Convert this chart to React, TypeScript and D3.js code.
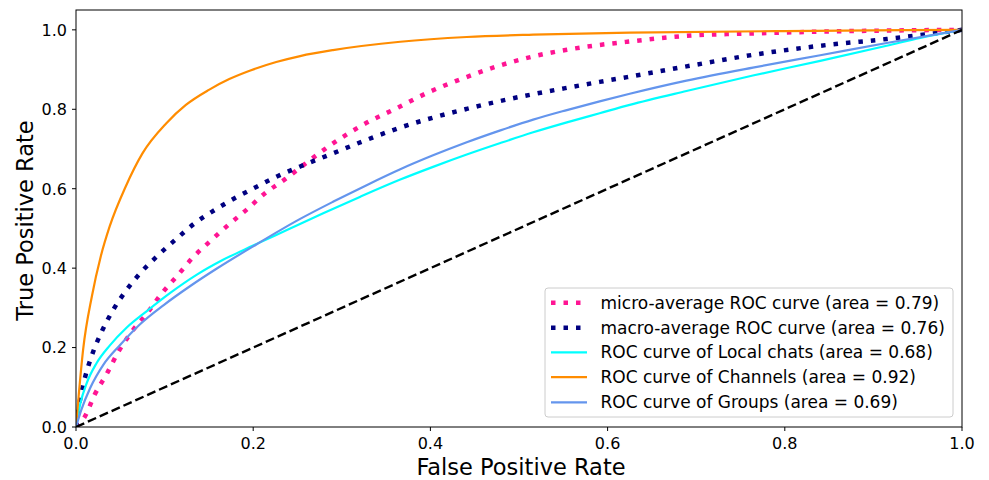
import React from "react";
import * as d3 from "d3";

const W = 989;
const H = 480;
const M = { left: 76, right: 962, top: 10, bottom: 427 };

const xTicks = [0, 0.2, 0.4, 0.6, 0.8, 1.0];
const yTicks = [0, 0.2, 0.4, 0.6, 0.8, 1.0];
const tickLabels = ["0.0", "0.2", "0.4", "0.6", "0.8", "1.0"];

// ROC curves: false positive rate / true positive rate
const microFpr = [0, 0.010, 0.021, 0.035, 0.048, 0.063, 0.080, 0.097, 0.114, 0.132, 0.153, 0.172, 0.193, 0.213, 0.236, 0.257, 0.290, 0.324, 0.362, 0.400, 0.437, 0.475, 0.516, 0.554, 0.591, 0.622, 0.689, 0.764, 0.877, 1.0];
const microTpr = [0, 0.026, 0.081, 0.135, 0.190, 0.240, 0.286, 0.337, 0.380, 0.427, 0.471, 0.509, 0.548, 0.588, 0.624, 0.660, 0.714, 0.761, 0.803, 0.845, 0.878, 0.908, 0.933, 0.950, 0.962, 0.970, 0.985, 0.991, 0.997, 1.0];

const macroFpr = [0, 0.002, 0.0045, 0.010, 0.018, 0.029, 0.042, 0.057, 0.074, 0.093, 0.114, 0.134, 0.157, 0.179, 0.204, 0.228, 0.253, 0.290, 0.328, 0.366, 0.403, 0.441, 0.479, 0.516, 0.554, 0.591, 0.622, 0.689, 0.764, 0.840, 0.915, 0.953, 1.0];
const macroTpr = [0, 0.040, 0.068, 0.123, 0.181, 0.240, 0.295, 0.345, 0.391, 0.433, 0.475, 0.513, 0.547, 0.576, 0.605, 0.632, 0.656, 0.689, 0.723, 0.754, 0.779, 0.801, 0.821, 0.838, 0.854, 0.869, 0.881, 0.908, 0.937, 0.960, 0.977, 0.987, 1.0];

const localFpr = [0, 0.005, 0.012, 0.023, 0.038, 0.057, 0.080, 0.106, 0.136, 0.166, 0.200, 0.238, 0.279, 0.321, 0.366, 0.403, 0.441, 0.479, 0.516, 0.554, 0.591, 0.625, 0.689, 0.764, 0.840, 0.915, 0.953, 1.0];
const localTpr = [0, 0.060, 0.110, 0.160, 0.205, 0.250, 0.292, 0.337, 0.383, 0.421, 0.457, 0.496, 0.538, 0.580, 0.623, 0.655, 0.686, 0.715, 0.742, 0.767, 0.790, 0.811, 0.846, 0.885, 0.922, 0.960, 0.980, 1.0];

const channelsFpr = [0, 0.0026, 0.008, 0.018, 0.028, 0.038, 0.056, 0.075, 0.102, 0.124, 0.150, 0.173, 0.196, 0.226, 0.253, 0.290, 0.366, 0.441, 0.516, 0.625, 0.800, 1.0];
const channelsTpr = [0, 0.068, 0.194, 0.330, 0.430, 0.505, 0.605, 0.689, 0.765, 0.811, 0.849, 0.876, 0.897, 0.919, 0.934, 0.949, 0.970, 0.982, 0.988, 0.993, 0.997, 1.0];

const groupsFpr = [0, 0.006, 0.016, 0.031, 0.050, 0.072, 0.099, 0.129, 0.159, 0.200, 0.253, 0.290, 0.328, 0.366, 0.403, 0.441, 0.479, 0.516, 0.554, 0.591, 0.625, 0.689, 0.764, 0.840, 0.915, 1.0];
const groupsTpr = [0, 0.043, 0.098, 0.157, 0.207, 0.258, 0.307, 0.355, 0.399, 0.455, 0.524, 0.567, 0.609, 0.649, 0.684, 0.717, 0.747, 0.774, 0.798, 0.820, 0.839, 0.872, 0.905, 0.936, 0.967, 1.0];

const diagFpr = [0, 1];
const diagTpr = [0, 1];

const seriesNames = [
  "micro-average ROC curve (area = 0.79)",
  "macro-average ROC curve (area = 0.76)",
  "ROC curve of Local chats (area = 0.68)",
  "ROC curve of Channels (area = 0.92)",
  "ROC curve of Groups (area = 0.69)",
];

const FONT = "'DejaVu Sans', sans-serif";

export default function App() {
  const x = d3.scaleLinear().domain([0, 1]).range([M.left, M.right]);
  const y = d3.scaleLinear().domain([0, 1.05]).range([M.bottom, M.top]);
  const line = d3
    .line<[number, number]>()
    .x((d) => x(d[0]))
    .y((d) => y(d[1]))
    .curve(d3.curveMonotoneX);
  const straight = d3
    .line<[number, number]>()
    .x((d) => x(d[0]))
    .y((d) => y(d[1]));
  const zip = (a: number[], b: number[]) => a.map((v, i) => [v, b[i]] as [number, number]);

  const series = [
    { name: seriesNames[0], data: zip(microFpr, microTpr), color: "#ff1493", width: 4.5, dash: "4.5,8" },
    { name: seriesNames[1], data: zip(macroFpr, macroTpr), color: "#000080", width: 4.5, dash: "4.5,8" },
    { name: seriesNames[2], data: zip(localFpr, localTpr), color: "#00ffff", width: 2.2, dash: "" },
    { name: seriesNames[3], data: zip(channelsFpr, channelsTpr), color: "#ff8c00", width: 2.2, dash: "" },
    { name: seriesNames[4], data: zip(groupsFpr, groupsTpr), color: "#6495ed", width: 2.2, dash: "" },
  ];

  const legX = 545, legY = 288, legW = 408, legH = 129;
  const rowY = [302.7, 327.7, 352.3, 377.2, 402.3];

  return (
    <svg
      width={W}
      height={H}
      style={{ position: "absolute", left: 0, top: 0, background: "#fff" }}
      fontFamily={FONT}
    >
      <rect x={0} y={0} width={W} height={H} fill="#fff" />
      <defs>
        <clipPath id="plot">
          <rect x={M.left} y={M.top} width={M.right - M.left} height={M.bottom - M.top} />
        </clipPath>
      </defs>
      <g clipPath="url(#plot)">
        {series.map((s) => (
          <path
            key={s.name}
            d={line(s.data) || ""}
            fill="none"
            stroke={s.color}
            strokeWidth={s.width}
            strokeDasharray={s.dash || undefined}
            strokeLinecap="butt"
            strokeLinejoin="round"
          />
        ))}
        <path
          d={straight(zip(diagFpr, diagTpr)) || ""}
          fill="none"
          stroke="#000"
          strokeWidth={2.4}
          strokeDasharray="9,4"
        />
      </g>
      <rect
        x={M.left}
        y={M.top}
        width={M.right - M.left}
        height={M.bottom - M.top}
        fill="none"
        stroke="#000"
        strokeWidth={1}
      />
      {xTicks.map((t, i) => (
        <g key={"x" + i}>
          <line x1={x(t)} x2={x(t)} y1={M.bottom} y2={M.bottom + 4} stroke="#000" strokeWidth={1} />
          <text x={x(t)} y={449} fontSize={16} textAnchor="middle" fill="#000">
            {tickLabels[i]}
          </text>
        </g>
      ))}
      {yTicks.map((t, i) => (
        <g key={"y" + i}>
          <line x1={M.left - 4} x2={M.left} y1={y(t)} y2={y(t)} stroke="#000" strokeWidth={1} />
          <text x={67} y={y(t) + 5.8} fontSize={16} textAnchor="end" fill="#000">
            {tickLabels[i]}
          </text>
        </g>
      ))}
      <text x={521} y={475} fontSize={22.5} textAnchor="middle" fill="#000">
        False Positive Rate
      </text>
      <text
        x={33}
        y={(M.top + M.bottom) / 2 + 2}
        fontSize={22.5}
        textAnchor="middle"
        fill="#000"
        transform={`rotate(-90, 33, ${(M.top + M.bottom) / 2 + 2})`}
      >
        True Positive Rate
      </text>
      <rect
        x={legX}
        y={legY}
        width={legW}
        height={legH}
        rx={3}
        fill="#fff"
        fillOpacity={0.8}
        stroke="#cccccc"
        strokeWidth={1}
      />
      {series.map((s, i) => (
        <g key={"leg" + i}>
          <line
            x1={551}
            x2={587}
            y1={rowY[i]}
            y2={rowY[i]}
            stroke={s.color}
            strokeWidth={s.width}
            strokeDasharray={s.dash || undefined}
          />
          <text x={600.5} y={rowY[i] + 6} fontSize={17} fill="#000">
            {s.name}
          </text>
        </g>
      ))}
    </svg>
  );
}
